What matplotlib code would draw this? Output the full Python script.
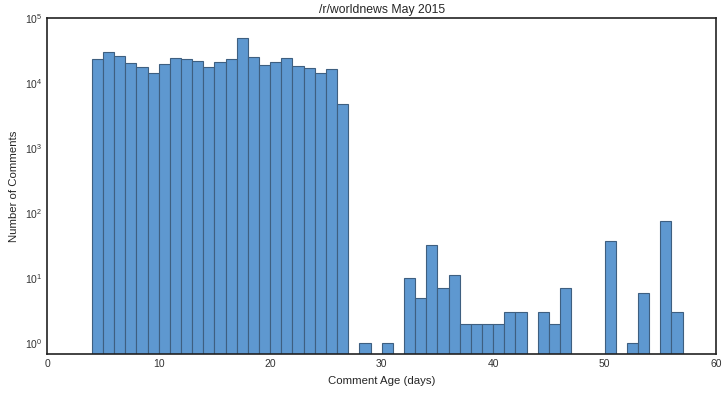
import numpy as np
import matplotlib
matplotlib.use("Agg")
import matplotlib.pyplot as plt

# histogram counts, one bin per day starting at day 4
bin_start = 4
counts = [23500, 30500, 26400, 20400, 17700, 14300, 19700, 24300, 23500, 22100,
          17700, 21300, 23500, 49600, 25200, 19200, 21300, 24300, 18500, 17000,
          14300, 16600, 4730,
          0, 1, 0, 1, 0, 10, 5, 32, 7, 11, 2, 2, 2, 2, 3, 3, 0, 3, 2, 7,
          0, 0, 0, 37, 0, 1, 6, 0, 75, 3]

edges = np.arange(bin_start, bin_start + len(counts) + 1)
centers = edges[:-1] + 0.5

plt.rcParams['font.family'] = ['Liberation Sans', 'DejaVu Sans']
plt.rcParams['text.color'] = '#262626'
plt.rcParams['axes.labelcolor'] = '#262626'

fig, ax = plt.subplots(figsize=(7.28, 3.93), dpi=100)
fig.subplots_adjust(left=0.065, right=0.9835, top=0.954, bottom=0.099)

ax.hist(centers, bins=edges, weights=counts, color='#5e98d0',
        edgecolor='#3e5f80', linewidth=0.8)
ax.set_yscale('log')
ax.set_ylim(0.68, 1e5)
ax.set_xlim(0, 60)

ax.set_title('/r/worldnews May 2015', fontsize=8.8, pad=4)
ax.set_xlabel('Comment Age (days)', fontsize=8.2, labelpad=5)
ax.set_ylabel('Number of Comments', fontsize=8.2)
ax.tick_params(labelsize=7.5, length=0, colors='#333333')
ax.minorticks_off()
for s in ax.spines.values():
    s.set_color('#222222')
    s.set_linewidth(1.2)

fig.savefig('out.png', dpi=100)
